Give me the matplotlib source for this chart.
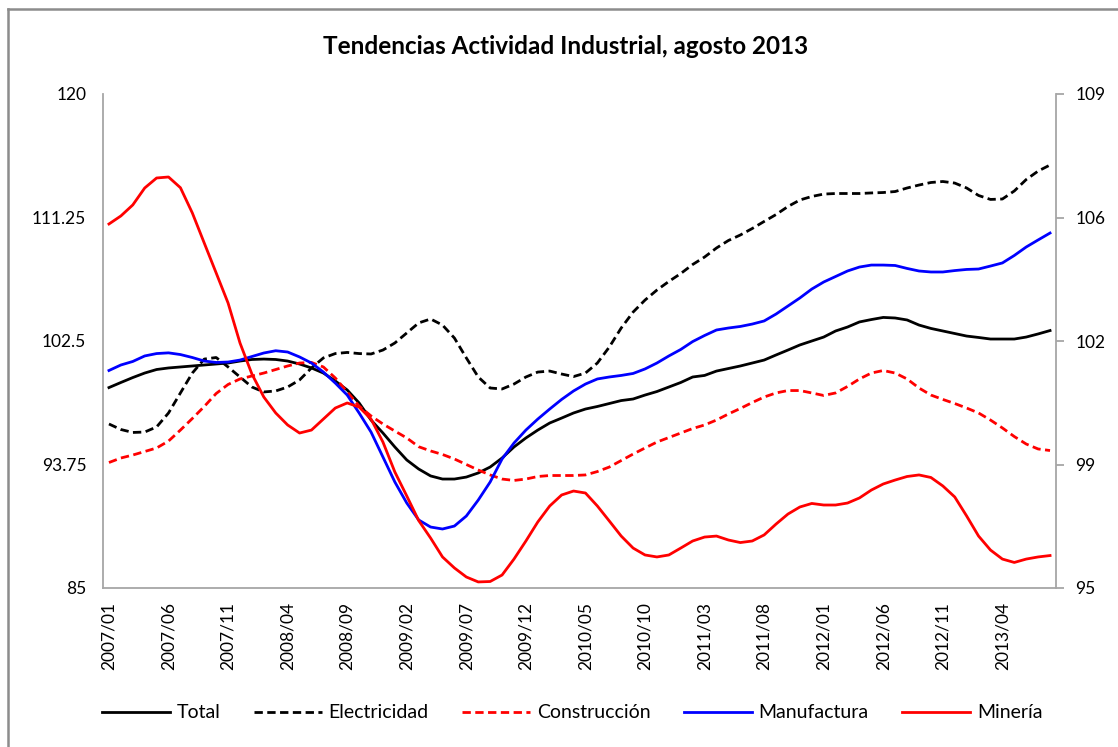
import numpy as np
import matplotlib.pyplot as plt
from matplotlib.lines import Line2D

plt.rcParams['font.family'] = ['Lato', 'DejaVu Sans']

# monthly data 2007/01 .. 2013/08
months = [f"{y}/{m:02d}" for y in range(2007, 2014) for m in range(1, 13)][:80]

total = [99.20, 99.56, 99.91, 100.23, 100.48, 100.59, 100.66, 100.73, 100.80, 100.87,
         100.94, 101.08, 101.19, 101.22, 101.19, 101.08, 100.87, 100.59, 100.23, 99.67,
         99.03, 98.11, 96.90, 95.98, 94.99, 94.07, 93.43, 92.94, 92.72, 92.72,
         92.86, 93.15, 93.57, 94.21, 94.99, 95.63, 96.19, 96.69, 97.04, 97.40,
         97.68, 97.86, 98.07, 98.28, 98.39, 98.67, 98.92, 99.24, 99.56, 99.95,
         100.06, 100.37, 100.55, 100.73, 100.94, 101.15, 101.51, 101.86, 102.22, 102.50,
         102.78, 103.21, 103.49, 103.85, 104.02, 104.17, 104.13, 103.99, 103.63, 103.39,
         103.21, 103.03, 102.85, 102.75, 102.64, 102.64, 102.64, 102.78, 103.00, 103.24]

electricidad = [96.62, 96.23, 96.02, 96.05, 96.41, 97.40, 98.82, 100.23, 101.22, 101.33,
                100.66, 99.95, 99.24, 98.89, 98.96, 99.24, 99.74, 100.59, 101.30, 101.61,
                101.69, 101.61, 101.58, 101.86, 102.36, 103.07, 103.78, 104.06, 103.63, 102.71,
                101.30, 99.95, 99.17, 99.10, 99.45, 99.95, 100.30, 100.37, 100.16, 99.98,
                100.23, 100.94, 102.07, 103.42, 104.55, 105.40, 106.11, 106.72, 107.28, 107.92,
                108.45, 109.09, 109.62, 110.01, 110.47, 110.97, 111.46, 112.03, 112.49, 112.74,
                112.91, 112.95, 112.95, 112.95, 112.99, 113.02, 113.09, 113.34, 113.55, 113.73,
                113.80, 113.69, 113.34, 112.81, 112.53, 112.56, 113.13, 113.94, 114.54, 114.97]

construccion = [93.89, 94.21, 94.42, 94.67, 94.92, 95.41, 96.19, 97.01, 97.86, 98.78,
                99.42, 99.81, 100.02, 100.23, 100.48, 100.73, 100.94, 100.98, 100.66, 99.88,
                98.89, 97.89, 97.19, 96.62, 96.12, 95.63, 95.01, 94.71, 94.46, 94.14,
                93.75, 93.36, 93.01, 92.72, 92.62, 92.72, 92.90, 92.97, 92.97, 92.97,
                93.01, 93.25, 93.57, 94.03, 94.49, 94.92, 95.34, 95.66, 95.98, 96.30,
                96.55, 96.90, 97.33, 97.72, 98.14, 98.53, 98.82, 98.99, 98.99, 98.82,
                98.64, 98.82, 99.28, 99.81, 100.23, 100.41, 100.23, 99.81, 99.17, 98.67,
                98.36, 98.07, 97.75, 97.40, 96.90, 96.34, 95.73, 95.20, 94.85, 94.74]

manufactura = [100.41, 100.80, 101.05, 101.44, 101.61, 101.66, 101.54, 101.33, 101.08, 100.98,
               101.01, 101.15, 101.40, 101.65, 101.81, 101.72, 101.37, 100.94, 100.30, 99.52,
               98.67, 97.40, 96.05, 94.28, 92.51, 91.02, 89.82, 89.32, 89.18, 89.39,
               90.10, 91.23, 92.51, 94.14, 95.27, 96.19, 96.97, 97.68, 98.36, 98.96,
               99.45, 99.81, 99.95, 100.06, 100.20, 100.52, 100.94, 101.44, 101.90, 102.46,
               102.89, 103.28, 103.42, 103.53, 103.70, 103.92, 104.41, 104.98, 105.55, 106.18,
               106.68, 107.07, 107.46, 107.74, 107.88, 107.88, 107.85, 107.64, 107.46, 107.39,
               107.39, 107.49, 107.57, 107.60, 107.81, 108.03, 108.56, 109.16, 109.66, 110.15]

mineria = [110.79, 111.36, 112.14, 113.34, 114.05, 114.12, 113.36, 111.57, 109.44, 107.32,
           105.19, 102.36, 100.16, 98.53, 97.40, 96.55, 95.98, 96.19, 96.97, 97.75,
           98.11, 97.82, 96.97, 95.34, 93.22, 91.52, 89.78, 88.54, 87.20, 86.42,
           85.78, 85.43, 85.46, 85.92, 87.05, 88.33, 89.68, 90.81, 91.59, 91.87,
           91.73, 90.81, 89.75, 88.68, 87.83, 87.34, 87.20, 87.34, 87.83, 88.33,
           88.61, 88.68, 88.40, 88.22, 88.33, 88.76, 89.53, 90.24, 90.74, 90.99,
           90.88, 90.88, 91.02, 91.38, 91.94, 92.37, 92.65, 92.90, 93.01, 92.83,
           92.23, 91.45, 90.10, 88.68, 87.69, 87.05, 86.81, 87.05, 87.20, 87.30]

left_ticks = [85, 93.75, 102.5, 111.25, 120]
left_labels = ['85', '93.75', '102.5', '111.25', '120']
right_ticks = [95, 98.5, 102, 105.5, 109]
right_labels = ['95', '99', '102', '106', '109']

fig = plt.figure(figsize=(11.18, 7.47), dpi=100)
W, H = 1118, 747
ax = fig.add_axes([103 / W, 1 - 588 / H, (1056 - 103) / W, (588 - 94) / H])

x = np.arange(len(months))
ax.plot(x, total, color='black', lw=2, label='Total')
ax.plot(x, electricidad, color='black', lw=2, ls=(0, (3, 1.6)), label='Electricidad')
ax.plot(x, construccion, color='#ff0000', lw=2, ls=(0, (3, 1.6)), label='Construcción')
ax.plot(x, manufactura, color='#0000ff', lw=2, label='Manufactura')
ax.plot(x, mineria, color='#ff0000', lw=2, label='Minería')

ax.set_xlim(-0.5, len(months) - 0.5)
ax.set_ylim(85, 120)
ax.set_yticks(left_ticks)
ax.set_yticklabels(left_labels)
ax.set_xticks(x[::5])
ax.set_xticklabels(months[::5], rotation=90)
ax.tick_params(axis='x', length=0, pad=10, labelsize=12.5, colors='black')
ax.tick_params(axis='y', length=0, pad=12, labelsize=12.5)

for s in ['left', 'bottom', 'right']:
    ax.spines[s].set_color('#a6a6a6')
    ax.spines[s].set_linewidth(1.3)
ax.spines['top'].set_visible(False)

ax2 = ax.twinx()
ax2.set_ylim(95, 109)
ax2.set_yticks(right_ticks)
ax2.set_yticklabels(right_labels)
ax2.tick_params(axis='y', length=6, width=1.3, color='#a6a6a6', pad=8, labelsize=12.5)
for s in ['left', 'bottom', 'right', 'top']:
    ax2.spines[s].set_visible(False)

fig.text(566 / W, 1 - 46 / H, 'Tendencias Actividad Industrial, agosto 2013',
         ha='center', va='center', fontsize=17.5, fontweight='bold')

handles, labels = ax.get_legend_handles_labels()
fig.legend(handles, labels, loc='center', bbox_to_anchor=(572 / W, 1 - 713 / H),
           ncol=5, frameon=False, fontsize=14, handlelength=3.5, handletextpad=0.36,
           columnspacing=1.7)

# chart frame (left and top edges)
fig.add_artist(Line2D([7.5 / W, 7.5 / W], [0, 1 - 8.5 / H], transform=fig.transFigure,
                      color='#8c8c8c', lw=1.8))
fig.add_artist(Line2D([7.5 / W, 1], [1 - 8.5 / H, 1 - 8.5 / H], transform=fig.transFigure,
                      color='#8c8c8c', lw=1.8))

fig.savefig('out.png', dpi=100)
